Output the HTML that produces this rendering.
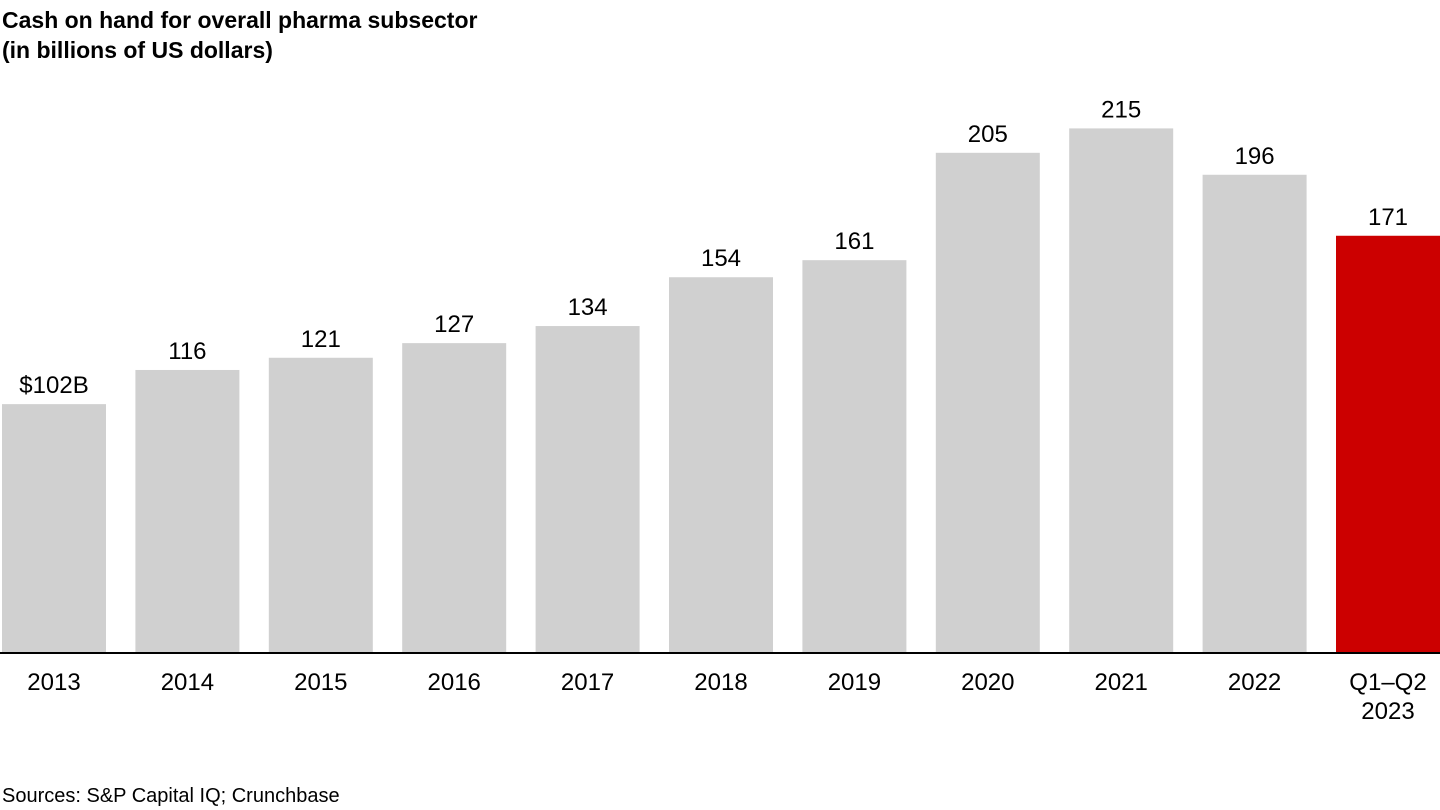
<!DOCTYPE html>
<html><head><meta charset="utf-8"><style>
body{margin:0;width:1440px;height:810px;background:#fff;font-family:"Liberation Sans",sans-serif;overflow:hidden;position:relative}
.t{position:absolute;left:2px;font-weight:bold;font-size:23px;color:#000;line-height:30px}
svg{position:absolute;left:0;top:0}
</style></head><body>
<div class="t" style="top:5px">Cash on hand for overall pharma subsector<br>(in billions of US dollars)</div>
<svg width="1440" height="810" id="chart"></svg>
<div style="position:absolute;left:2px;top:785px;font-size:20px">Sources: S&amp;P Capital IQ; Crunchbase</div>
<script>
const categories=["2013","2014","2015","2016","2017","2018","2019","2020","2021","2022","Q1–Q2|2023"];
const values=[102,116,121,127,134,154,161,205,215,196,171];
const valueLabels=["$102B","116","121","127","134","154","161","205","215","196","171"];
const highlight=[false,false,false,false,false,false,false,false,false,false,true];
const svg=document.getElementById('chart');
const NS='http://www.w3.org/2000/svg';
const base=653,scale=2.44,x0=2,pitch=133.4,bw=104;
const y=v=>base-v*scale;
const x=i=>x0+i*pitch;
values.forEach((v,i)=>{
  const r=document.createElementNS(NS,'rect');
  r.setAttribute('x',x(i));r.setAttribute('y',y(v));r.setAttribute('width',bw);r.setAttribute('height',base-y(v));
  r.setAttribute('fill',highlight[i]?'#cc0000':'#d0d0d0');
  
  
  svg.appendChild(r);
  const t=document.createElementNS(NS,'text');
  t.setAttribute('x',x(i)+bw/2);t.setAttribute('y',y(v)-11);t.setAttribute('text-anchor','middle');
  t.setAttribute('font-size','24');t.textContent=valueLabels[i];
  
  
  svg.appendChild(t);
  categories[i].split('|').forEach((s,k)=>{
    const c=document.createElementNS(NS,'text');
    c.setAttribute('x',x(i)+bw/2);c.setAttribute('y',690+k*29);c.setAttribute('text-anchor','middle');
    c.setAttribute('font-size','24');c.textContent=s;
    
    
    svg.appendChild(c);
  });
});
const l=document.createElementNS(NS,'line');
l.setAttribute('x1',0);l.setAttribute('x2',1440);l.setAttribute('y1',base);l.setAttribute('y2',base);
l.setAttribute('stroke','#000');l.setAttribute('stroke-width','2');


svg.appendChild(l);
</script>
</body></html>
